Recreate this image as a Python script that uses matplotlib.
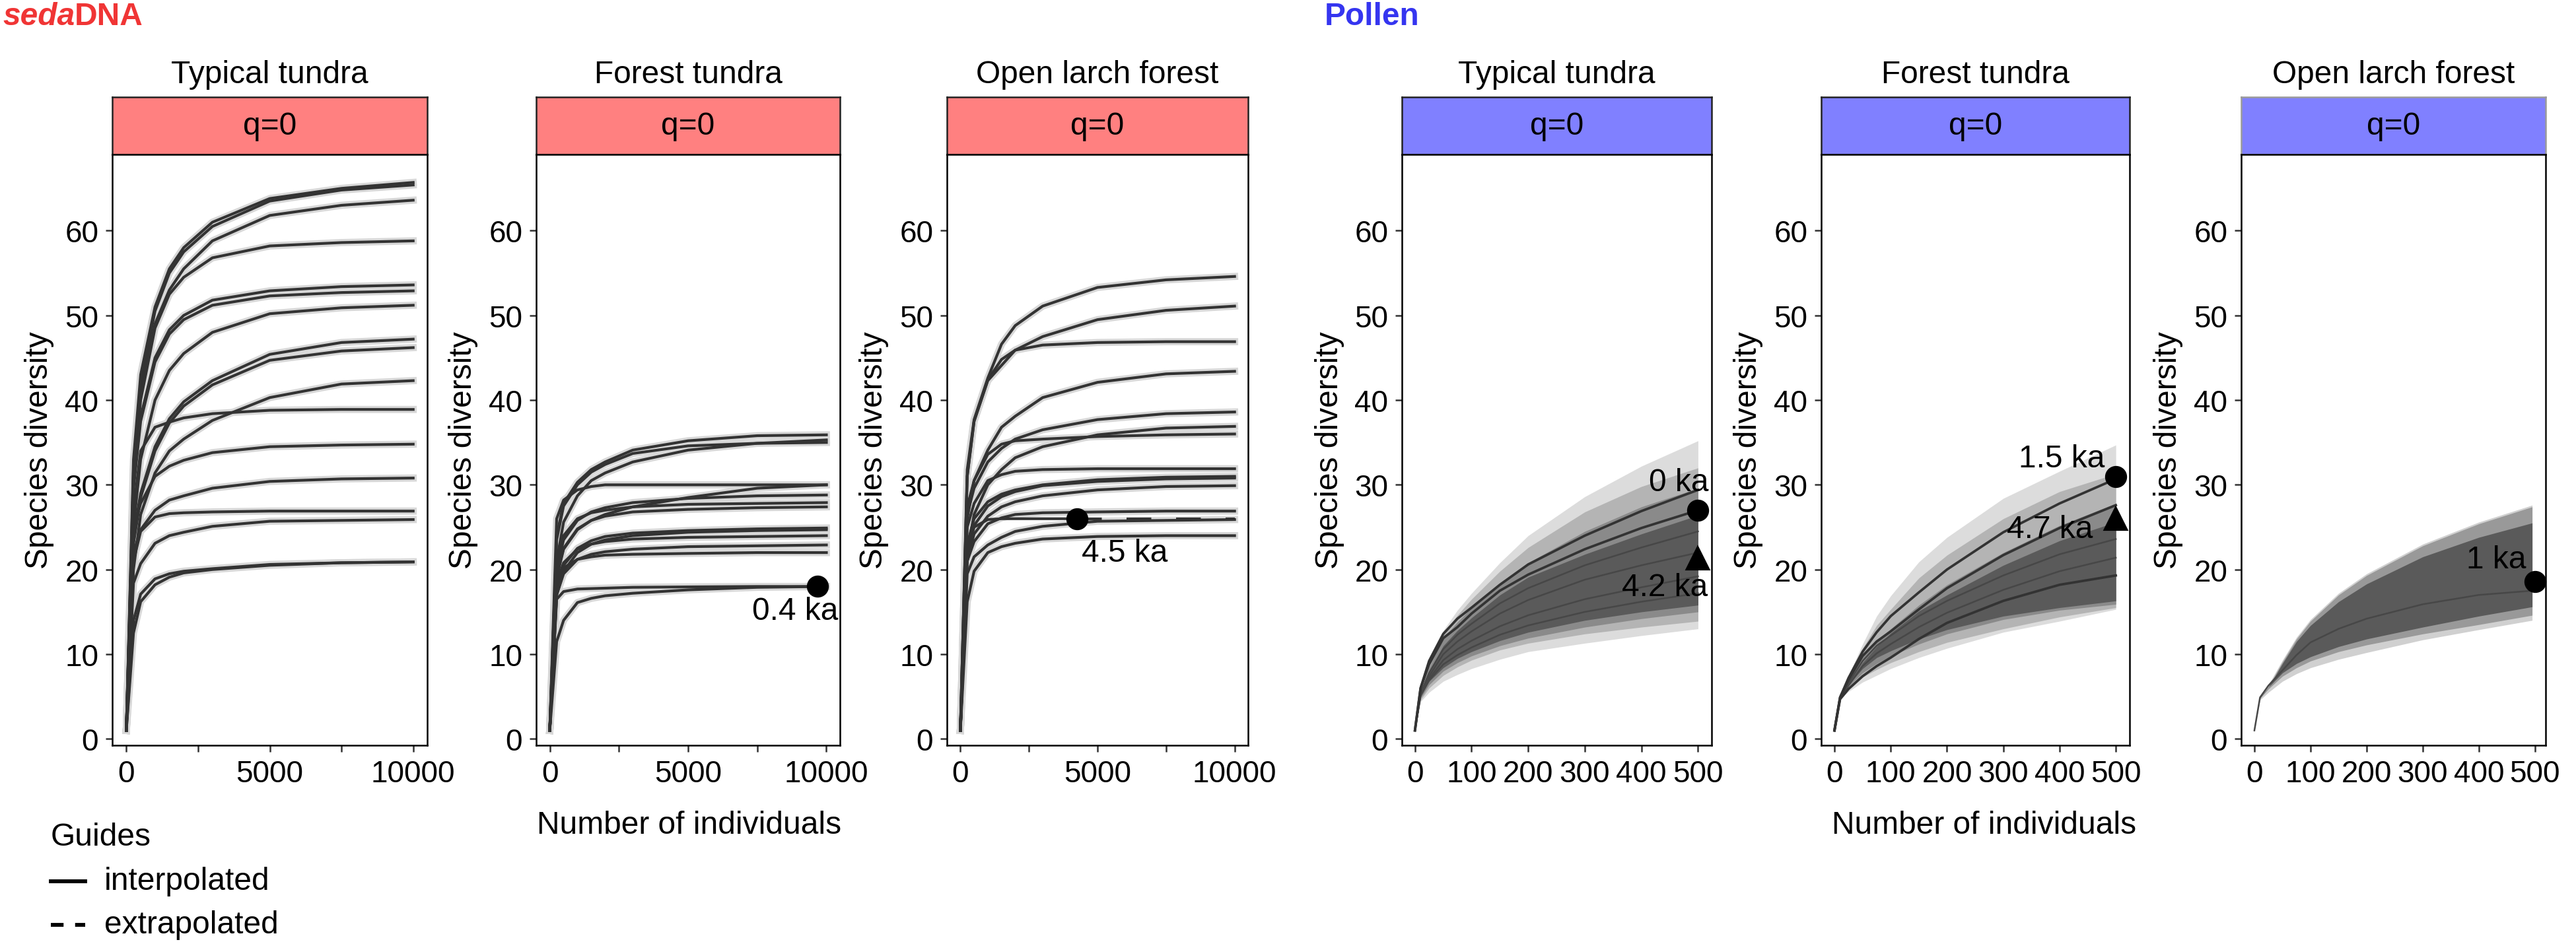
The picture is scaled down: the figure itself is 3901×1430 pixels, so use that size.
import matplotlib
matplotlib.use("Agg")
import matplotlib.pyplot as plt
from matplotlib.lines import Line2D

plt.rcParams['font.family'] = ['Liberation Sans', 'DejaVu Sans']

W, H = 3901, 1431
DPI = 300

# ---------------- sedaDNA rarefaction curves ----------------
sed_x = [0, 250, 500, 1000, 1500, 2000, 3000, 5000, 7500, 10000]

typical_sed = [
    [1, 33, 43, 51, 55.5, 58, 61, 63.8, 65, 65.7],
    [1, 32, 42, 50.5, 55, 57.5, 60.5, 63.5, 64.8, 65.4],
    [1, 31, 41, 49, 53, 55.5, 58.8, 61.8, 63, 63.6],
    [1, 30, 40, 48.5, 52.5, 54.5, 56.8, 58.2, 58.6, 58.8],
    [1, 30, 38, 45, 48.3, 50, 51.8, 52.9, 53.4, 53.6],
    [1, 29.5, 37.5, 44.5, 47.8, 49.5, 51.2, 52.3, 52.7, 52.9],
    [1, 25, 33, 40, 43.5, 45.5, 48, 50.2, 50.9, 51.2],
    [1, 24, 29, 34.5, 37.8, 39.8, 42.3, 45.4, 46.8, 47.2],
    [1, 23, 28.5, 34, 37.3, 39.3, 41.8, 44.7, 45.8, 46.2],
    [1, 20, 26.5, 31.4, 34, 35.4, 37.6, 40.3, 41.9, 42.3],
    [1, 27, 34, 36.8, 37.4, 37.9, 38.4, 38.8, 38.9, 38.9],
    [1, 24.7, 27.8, 31, 32.2, 32.9, 33.8, 34.5, 34.7, 34.8],
    [1, 22, 24.7, 27, 28.2, 28.7, 29.6, 30.4, 30.7, 30.8],
    [1, 21, 24.5, 26.2, 26.6, 26.7, 26.8, 26.9, 26.9, 26.9],
    [1, 18.4, 20.7, 23.1, 24, 24.4, 25.1, 25.7, 25.8, 25.9],
    [1, 14, 17.1, 18.9, 19.5, 19.8, 20.1, 20.6, 20.8, 20.9],
    [1, 12.5, 16.2, 18.2, 19.1, 19.6, 20, 20.5, 20.8, 20.9],
]

forest_sed = [
    [1, 24, 27.8, 30.3, 31.8, 32.7, 34.1, 35.2, 35.8, 35.9],
    [1, 21, 25.6, 28.7, 30.5, 31.4, 32.7, 34.1, 34.9, 35.3],
    [1, 23.5, 27.5, 30, 31.5, 32.4, 33.7, 34.6, 34.9, 35.0],
    [1, 26, 28.2, 29.4, 29.8, 30, 30, 30, 30, 30],
    [1, 19, 22.4, 24.7, 25.8, 26.5, 27.4, 28.5, 29.6, 30],
    [1, 20, 23.5, 25.8, 26.8, 27.3, 27.9, 28.4, 28.7, 28.8],
    [1, 21, 24, 26, 26.7, 27, 27.4, 27.7, 27.8, 27.9],
    [1, 19.5, 22.5, 24.8, 25.8, 26.3, 26.8, 27.1, 27.3, 27.4],
    [1, 18, 20.5, 22.5, 23.4, 23.9, 24.3, 24.6, 24.8, 24.9],
    [1, 17, 19.8, 22, 23, 23.5, 24, 24.4, 24.6, 24.7],
    [1, 18.5, 20.8, 22.4, 23, 23.3, 23.6, 23.8, 23.9, 24],
    [1, 17, 19.5, 21.2, 21.8, 22.1, 22.4, 22.7, 22.8, 22.9],
    [1, 18, 20.2, 21.2, 21.5, 21.7, 21.8, 21.9, 22, 22],
    [1, 11.5, 14, 16.1, 16.6, 16.9, 17.2, 17.6, 17.9, 18.0],
]
forest_ref_x = [0, 250, 500, 1000, 2000, 3000, 5000, 7500, 9670]
forest_ref_y = [1, 16.5, 17.4, 17.7, 17.8, 17.9, 17.95, 18, 18]

larch_sed = [
    [1, 31.8, 37.7, 42.6, 46.6, 48.8, 51.1, 53.3, 54.2, 54.6],
    [1, 31, 37.5, 42.3, 44.1, 45.9, 47.5, 49.5, 50.6, 51.1],
    [1, 31, 37.5, 42.4, 44.8, 45.9, 46.5, 46.8, 46.9, 46.9],
    [1, 27.4, 30.5, 34.1, 36.8, 38.1, 40.3, 42.1, 43.1, 43.4],
    [1, 26.5, 29.6, 32.7, 34.3, 35.4, 36.5, 37.7, 38.4, 38.6],
    [1, 22, 26.5, 30, 31.8, 33.2, 34.5, 35.9, 36.7, 36.9],
    [1, 26, 30.5, 33.6, 34.8, 35.2, 35.4, 35.7, 35.9, 36.0],
    [1, 25, 27.8, 30.5, 31.2, 31.6, 31.8, 31.9, 31.9, 31.9],
    [1, 23, 26, 28, 28.9, 29.4, 30, 30.6, 30.9, 31.0],
    [1, 22, 25.2, 27.5, 28.6, 29.2, 29.9, 30.4, 30.7, 30.8],
    [1, 21, 24.2, 26.3, 27.4, 28, 28.7, 29.4, 29.8, 29.9],
    [1, 21, 23.3, 25.4, 26.1, 26.5, 26.7, 26.8, 26.9, 26.9],
    [1, 19.5, 21.5, 22.9, 23.8, 24.5, 25.1, 25.7, 25.8, 25.9],
    [1, 16.2, 19.8, 22, 22.7, 23.1, 23.6, 23.9, 24, 24],
]
larch_ref_x = [0, 250, 500, 1000, 1500, 2000, 3000, 4263]
larch_ref_y = [1, 22, 25, 25.9, 26, 26, 26, 26]
larch_ext_x = [4263, 5000, 7500, 10000]
larch_ext_y = [26, 26, 26, 26]

# ---------------- pollen rarefaction curves ----------------
pol_x = [0, 10, 25, 50, 75, 100, 150, 200, 300, 400, 500]
pol6_x = [0, 10, 25, 50, 75, 100, 150, 200, 300, 400, 495]

typ_pol_lower = [
    [1, 4.4, 5.5, 6.8, 7.6, 8.3, 9.4, 10.3, 11.3, 12.2, 13.0],
    [1, 4.6, 6.0, 7.5, 8.5, 9.3, 10.5, 11.3, 12.4, 13.2, 13.9],
    [1, 4.8, 6.4, 8.0, 9.0, 9.8, 11.0, 11.9, 13.2, 14.2, 15.0],
    [1, 5.0, 6.8, 8.4, 9.5, 10.3, 11.6, 12.6, 14.0, 15.0, 15.8],
]
typ_pol_upper = [
    [1, 5.8, 8.8, 12.8, 15.2, 17.2, 20.8, 24.0, 28.6, 32.2, 35.2],
    [1, 5.7, 8.6, 12.4, 14.6, 16.5, 19.8, 22.6, 26.8, 29.8, 32.0],
    [1, 5.6, 8.4, 11.9, 13.8, 15.5, 18.4, 20.8, 24.5, 27.4, 29.6],
    [1, 5.5, 8.0, 11.0, 12.8, 14.3, 17.0, 19.1, 21.8, 24.2, 26.4],
]
typ_pol_lines = [
    [1, 6.0, 9.2, 12.4, 14.2, 15.5, 18.2, 20.6, 24.0, 26.9, 29.4],
    [1, 6.0, 8.8, 11.9, 13.2, 14.8, 17.5, 19.4, 22.4, 24.9, 27.0],
]
typ_pol_inner = [
    [1, 5.4, 7.8, 10.6, 12.3, 13.6, 16.0, 17.8, 20.5, 22.6, 24.5],
    [1, 5.3, 7.4, 10.0, 11.5, 12.7, 14.8, 16.4, 18.8, 20.5, 22.0],
    [1, 5.2, 7.1, 9.3, 10.6, 11.6, 13.3, 14.6, 16.5, 17.9, 19.2],
    [1, 5.1, 6.9, 8.8, 9.9, 10.8, 12.3, 13.4, 15.0, 16.2, 17.2],
]

for_pol_lower = [
    [1, 4.8, 5.6, 6.7, 7.5, 8.3, 9.6, 10.7, 12.6, 13.9, 15.3],
    [1, 4.9, 6.0, 7.3, 8.2, 9.0, 10.3, 11.4, 13.0, 14.4, 15.5],
    [1, 5.0, 6.2, 7.8, 8.9, 9.8, 11.2, 12.4, 14.1, 15.2, 15.9],
    [1, 5.0, 6.4, 8.3, 9.6, 10.4, 11.8, 12.9, 14.5, 15.5, 16.3],
]
for_pol_upper = [
    [1, 5.1, 7.5, 11.2, 14.5, 16.9, 20.9, 23.8, 28.4, 31.6, 34.7],
    [1, 5.0, 7.0, 10.7, 13.4, 15.3, 19.0, 21.7, 26.0, 29.2, 31.3],
    [1, 5.0, 7.0, 9.8, 11.6, 13.0, 15.8, 18.2, 22.0, 25.2, 27.8],
    [1, 4.9, 6.6, 9.0, 10.9, 12.5, 15.1, 17.0, 20.5, 23.4, 25.6],
]
for_pol_lines = [
    [1, 4.9, 7.2, 10.3, 12.6, 14.5, 17.3, 20.0, 24.4, 27.8, 30.7],
    [1, 4.9, 7.0, 9.8, 11.5, 12.7, 15.3, 17.8, 21.7, 24.9, 27.6],
    [1, 4.7, 5.9, 7.4, 8.6, 9.6, 11.8, 13.7, 16.3, 18.2, 19.3],
]
for_pol_inner = [
    [1, 4.9, 6.6, 9.2, 11.0, 12.2, 14.5, 16.3, 19.3, 21.8, 23.6],
    [1, 4.8, 6.3, 8.6, 10.1, 11.2, 13.2, 14.9, 17.6, 19.8, 21.4],
]

lar_pol_lower = [
    [1, 4.6, 5.5, 6.8, 7.7, 8.4, 9.4, 10.2, 11.7, 12.9, 14.0],
    [1, 4.8, 5.9, 7.4, 8.4, 9.2, 10.3, 11.1, 12.4, 13.5, 14.6],
    [1, 4.9, 6.1, 7.8, 8.9, 9.7, 10.9, 11.8, 13.2, 14.5, 15.6],
]
lar_pol_upper = [
    [1, 4.9, 6.4, 9.3, 12.0, 14.1, 17.2, 19.5, 23.0, 25.6, 27.6],
    [1, 4.8, 6.2, 9.1, 11.8, 13.9, 17.0, 19.3, 22.8, 25.4, 27.4],
    [1, 4.8, 6.1, 8.9, 11.5, 13.4, 16.2, 18.3, 21.5, 23.8, 25.5],
]
lar_pol_inner = [
    [1, 4.9, 6.3, 8.1, 9.9, 11.4, 13.0, 14.2, 15.9, 17.0, 17.5],
]

shades4 = ['#dcdcdc', '#b4b4b4', '#8a8a8a', '#5a5a5a']
shades3 = ['#d0d0d0', '#999999', '#5a5a5a']

# ---------------- layout (pixels) ----------------
sed_cols = [(170, 647), (812, 1272), (1434, 1890)]
pol_cols = [(2123, 2592), (2758, 3225), (3394, 3855)]
strip_top, panel_top, panel_bot = 148, 235, 1130
titles = ['Typical tundra', 'Forest tundra', 'Open larch forest']
LINE = '#333333'
FS = 11.5


def fx(px):
    return px / W


def fy(py):
    return 1 - py / H


fig = plt.figure(figsize=(W / DPI, H / DPI), dpi=DPI)


def make_panel(l, r, title, strip_color, strip_edge, xlim, xticks, xlabels):
    sax = fig.add_axes([fx(l), fy(panel_top), fx(r) - fx(l), (panel_top - strip_top) / H])
    sax.set_facecolor(strip_color)
    sax.set_xticks([])
    sax.set_yticks([])
    for sp in sax.spines.values():
        sp.set_edgecolor(strip_edge)
        sp.set_linewidth(0.6)
    sax.text(0.5, 0.5, 'q=0', ha='center', va='center', fontsize=FS, transform=sax.transAxes)

    ax = fig.add_axes([fx(l), fy(panel_bot), fx(r) - fx(l), (panel_bot - panel_top) / H])
    ax.set_xlim(*xlim)
    ax.set_ylim(-0.75, 69)
    ax.set_yticks(range(0, 61, 10))
    ax.set_xticks(xticks)
    ax.set_xticklabels(xlabels)
    for sp in ax.spines.values():
        sp.set_color('black')
        sp.set_linewidth(0.6)
    ax.tick_params(direction='out', length=2.5, width=0.6, color=LINE,
                   labelsize=11, pad=2.5, labelcolor='black')
    fig.text(fx((l + r) / 2), fy(113), title, ha='center', va='center', fontsize=FS)
    fig.text(fx(l - 110), fy((panel_top + panel_bot) / 2), 'Species diversity',
             rotation=90, ha='center', va='center', fontsize=FS)
    return ax


def draw_sed(ax, curves):
    for y in curves:
        ax.plot(sed_x, y, color='#d8d8d8', lw=2.6, zorder=1)
    for y in curves:
        ax.plot(sed_x, y, color=LINE, lw=1.0, zorder=2)


def draw_pol(ax, xs, lowers, uppers, shades, lines, inner):
    for lo, up, c in zip(lowers, uppers, shades):
        ax.fill_between(xs, lo, up, color=c, lw=0, zorder=1)
    for y in inner:
        ax.plot(xs, y, color='#474747', lw=0.6, zorder=2)
    for y in lines:
        ax.plot(xs, y, color=LINE, lw=0.9, zorder=3)


sed_ticks = [0, 2500, 5000, 7500, 10000]
sed_labels = ['0', '', '5000', '', '10000']
pol_ticks = [0, 100, 200, 300, 400, 500]
pol_labels = [str(t) for t in pol_ticks]

# sedaDNA panels
ax1 = make_panel(*sed_cols[0], titles[0], '#FF8080', '#222222', (-490, 10490), sed_ticks, sed_labels)
draw_sed(ax1, typical_sed)

ax2 = make_panel(*sed_cols[1], titles[1], '#FF8080', '#222222', (-490, 10490), sed_ticks, sed_labels)
draw_sed(ax2, forest_sed)
ax2.plot(forest_ref_x, forest_ref_y, color='#d8d8d8', lw=2.6, zorder=1)
ax2.plot(forest_ref_x, forest_ref_y, color=LINE, lw=1.0, zorder=2)
ax2.plot([forest_ref_x[-1]], [forest_ref_y[-1]], 'o', color='black', ms=7, zorder=5, clip_on=False)
ax2.text(8870, 15.1, '0.4 ka', ha='center', va='center', fontsize=FS, zorder=6)

ax3 = make_panel(*sed_cols[2], titles[2], '#FF8080', '#222222', (-490, 10490), sed_ticks, sed_labels)
draw_sed(ax3, larch_sed)
ax3.plot(larch_ref_x, larch_ref_y, color=LINE, lw=1.0, zorder=2)
ax3.plot(larch_ext_x, larch_ext_y, color=LINE, lw=1.0, dashes=(9, 9), zorder=2)
ax3.plot([larch_ref_x[-1]], [larch_ref_y[-1]], 'o', color='black', ms=7, zorder=5)
ax3.text(6000, 22.0, '4.5 ka', ha='center', va='center', fontsize=FS, zorder=6)

# pollen panels
ax4 = make_panel(*pol_cols[0], titles[0], '#8080FF', '#222222', (-23, 524), pol_ticks, pol_labels)
draw_pol(ax4, pol_x, typ_pol_lower, typ_pol_upper, shades4, typ_pol_lines, typ_pol_inner)
ax4.plot([500], [27.0], 'o', color='black', ms=7, zorder=5, clip_on=False)
ax4.plot([500], [21.3], '^', color='black', ms=7.5, zorder=5, clip_on=False)
ax4.text(466, 30.3, '0 ka', ha='center', va='center', fontsize=FS, zorder=6)
ax4.text(441, 17.9, '4.2 ka', ha='center', va='center', fontsize=FS, zorder=6)

ax5 = make_panel(*pol_cols[1], titles[1], '#8080FF', '#222222', (-23.5, 524.5), pol_ticks, pol_labels)
draw_pol(ax5, pol_x, for_pol_lower, for_pol_upper, shades4, for_pol_lines, for_pol_inner)
ax5.plot([500], [31.0], 'o', color='black', ms=7, zorder=5, clip_on=False)
ax5.plot([500], [26.0], '^', color='black', ms=7.5, zorder=5, clip_on=False)
ax5.text(404, 33.1, '1.5 ka', ha='center', va='center', fontsize=FS, zorder=6)
ax5.text(383, 24.8, '4.7 ka', ha='center', va='center', fontsize=FS, zorder=6)

ax6 = make_panel(*pol_cols[2], titles[2], '#8080FF', '#9a9a9a', (-23.5, 519), pol_ticks, pol_labels)
draw_pol(ax6, pol6_x, lar_pol_lower, lar_pol_upper, shades3, [], lar_pol_inner)
ax6.plot([500], [18.6], 'o', color='black', ms=7, zorder=5, clip_on=False)
ax6.text(431, 21.2, '1 ka', ha='center', va='center', fontsize=FS, zorder=6)

# x-axis titles
fig.text(fx(1044), fy(1251), 'Number of individuals', ha='center', va='center', fontsize=FS)
fig.text(fx(3005), fy(1251), 'Number of individuals', ha='center', va='center', fontsize=FS)

# group headings
red, blue = '#F03535', '#3535F0'
renderer = fig.canvas.get_renderer()
t1 = fig.text(fx(4), fy(25), 'seda', color=red, fontsize=FS, weight='bold',
              style='italic', ha='left', va='center')
bb = t1.get_window_extent(renderer)
fig.text(bb.x1 / W, fy(25), 'DNA', color=red, fontsize=FS, weight='bold', ha='left', va='center')
fig.text(fx(2006), fy(25), 'Pollen', color=blue, fontsize=FS, weight='bold', ha='left', va='center')

# legend
fig.text(fx(77), fy(1269), 'Guides', ha='left', va='center', fontsize=FS)
fig.add_artist(Line2D([fx(77), fx(129)], [fy(1336), fy(1336)], color='black', lw=1.4))
fig.add_artist(Line2D([fx(77), fx(129)], [fy(1402), fy(1402)], color='black', lw=1.4,
                      dashes=(3.3, 3.0)))
fig.text(fx(158), fy(1336), 'interpolated', ha='left', va='center', fontsize=FS)
fig.text(fx(158), fy(1402), 'extrapolated', ha='left', va='center', fontsize=FS)

fig.savefig('out.png', dpi=DPI)
